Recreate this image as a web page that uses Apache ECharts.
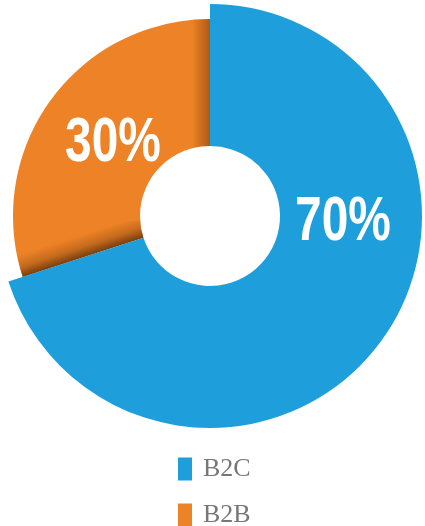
<!DOCTYPE html>
<html>
<head>
<meta charset="utf-8">
<script src="https://cdn.jsdelivr.net/npm/echarts@6/dist/echarts.min.js"></script>
<style>
html,body{margin:0;padding:0;background:#fff;}
#main{width:425px;height:526px;}
</style>
</head>
<body>
<div id="main"></div>
<script>
// ---- data ----
const categories = ['B2C', 'B2B'];
const values = [70, 30];
const colors = ['#1E9FDB', '#EE8226'];

// ---- styles ----
const center = [210, 216];
const innerR = 70;
const outerR = [212, 197];
const shadeW = 4; // width of edge shading slices (same units as values)
const labelFont = '"Liberation Sans", Arial, sans-serif';
const labelPos = [[343, 223], [113, 144]];
const legendTops = [456, 502];

const chart = echarts.init(document.getElementById('main'), null, {renderer: 'canvas'});

const total = values.reduce((a, b) => a + b, 0);
function cx(angleDeg, r) { return center[0] + r * Math.sin(angleDeg * Math.PI / 180); }
function cy(angleDeg, r) { return center[1] - r * Math.cos(angleDeg * Math.PI / 180); }

// main slices: one series per category so each may have its own radius
const mainSeries = categories.map((name, i) => ({
  type: 'pie',
  center: center,
  radius: [innerR, outerR[i]],
  startAngle: 90,
  clockwise: true,
  silent: true,
  z: i === 0 ? 3 : 2,
  label: {show: false},
  labelLine: {show: false},
  data: categories.map((n, j) => j === i ? {
    name: n,
    value: values[j],
    itemStyle: {color: colors[j]}
  } : {
    name: '_gap' + i + '_' + j,
    value: values[j],
    itemStyle: {color: 'transparent'}
  })
}));

// edge shading on the B2B slice near the B2C boundaries
const bAngleStart = values[0] / total * 360; // clockwise from top
const rad = bAngleStart * Math.PI / 180;
const nrm = [Math.cos(rad), Math.sin(rad)]; // points from boundary into B2B slice
const midR = (innerR + outerR[1]) / 2;
const p0 = [cx(bAngleStart, midR), cy(bAngleStart, midR)];
const shadeDepth = 22;
const bottomGrad = new echarts.graphic.LinearGradient(
  p0[0], p0[1], p0[0] + nrm[0] * shadeDepth, p0[1] + nrm[1] * shadeDepth,
  [{offset: 0, color: 'rgba(50,22,0,0.62)'}, {offset: 0.45, color: 'rgba(50,22,0,0.22)'}, {offset: 1, color: 'rgba(50,22,0,0)'}], true);
const topGrad = new echarts.graphic.LinearGradient(
  center[0], 0, center[0] - 18, 0,
  [{offset: 0, color: 'rgba(70,30,0,0.40)'}, {offset: 1, color: 'rgba(70,30,0,0)'}], true);

const shadeSeries = {
  type: 'pie',
  center: center,
  radius: [innerR, outerR[1]],
  startAngle: 90,
  clockwise: true,
  silent: true,
  z: 2.5,
  label: {show: false},
  labelLine: {show: false},
  emphasis: {disabled: true},
  data: [
    {name: '_s0', value: values[0], itemStyle: {color: 'transparent'}},
    {name: '_s1', value: shadeW, itemStyle: {color: bottomGrad}},
    {name: '_s2', value: values[1] - 2 * shadeW, itemStyle: {color: 'transparent'}},
    {name: '_s3', value: shadeW, itemStyle: {color: topGrad}}
  ]
};

// percentage labels (condensed bold look)
const labelGraphics = categories.map((n, i) => ({
  type: 'text',
  x: labelPos[i][0],
  y: labelPos[i][1],
  scaleX: 0.76,
  z: 10,
  silent: true,
  style: {
    text: values[i] + '%',
    fill: '#fff',
    font: 'bold 63px ' + labelFont,
    textAlign: 'center',
    textVerticalAlign: 'middle'
  }
}));

const legends = categories.map((n, i) => ({
  data: [n],
  orient: 'vertical',
  left: 178,
  top: legendTops[i],
  padding: 0,
  itemWidth: 14,
  itemHeight: 23,
  itemGap: 0,
  icon: 'rect',
  selectedMode: false,
  textStyle: {
    fontFamily: '"Liberation Serif", "DejaVu Serif", serif',
    fontSize: 26,
    color: '#777',
    padding: [0, 0, 0, 6]
  }
}));

chart.setOption({
  animation: false,
  backgroundColor: '#fff',
  color: colors,
  legend: legends,
  graphic: labelGraphics,
  series: [...mainSeries, shadeSeries]
});
</script>
</body>
</html>
